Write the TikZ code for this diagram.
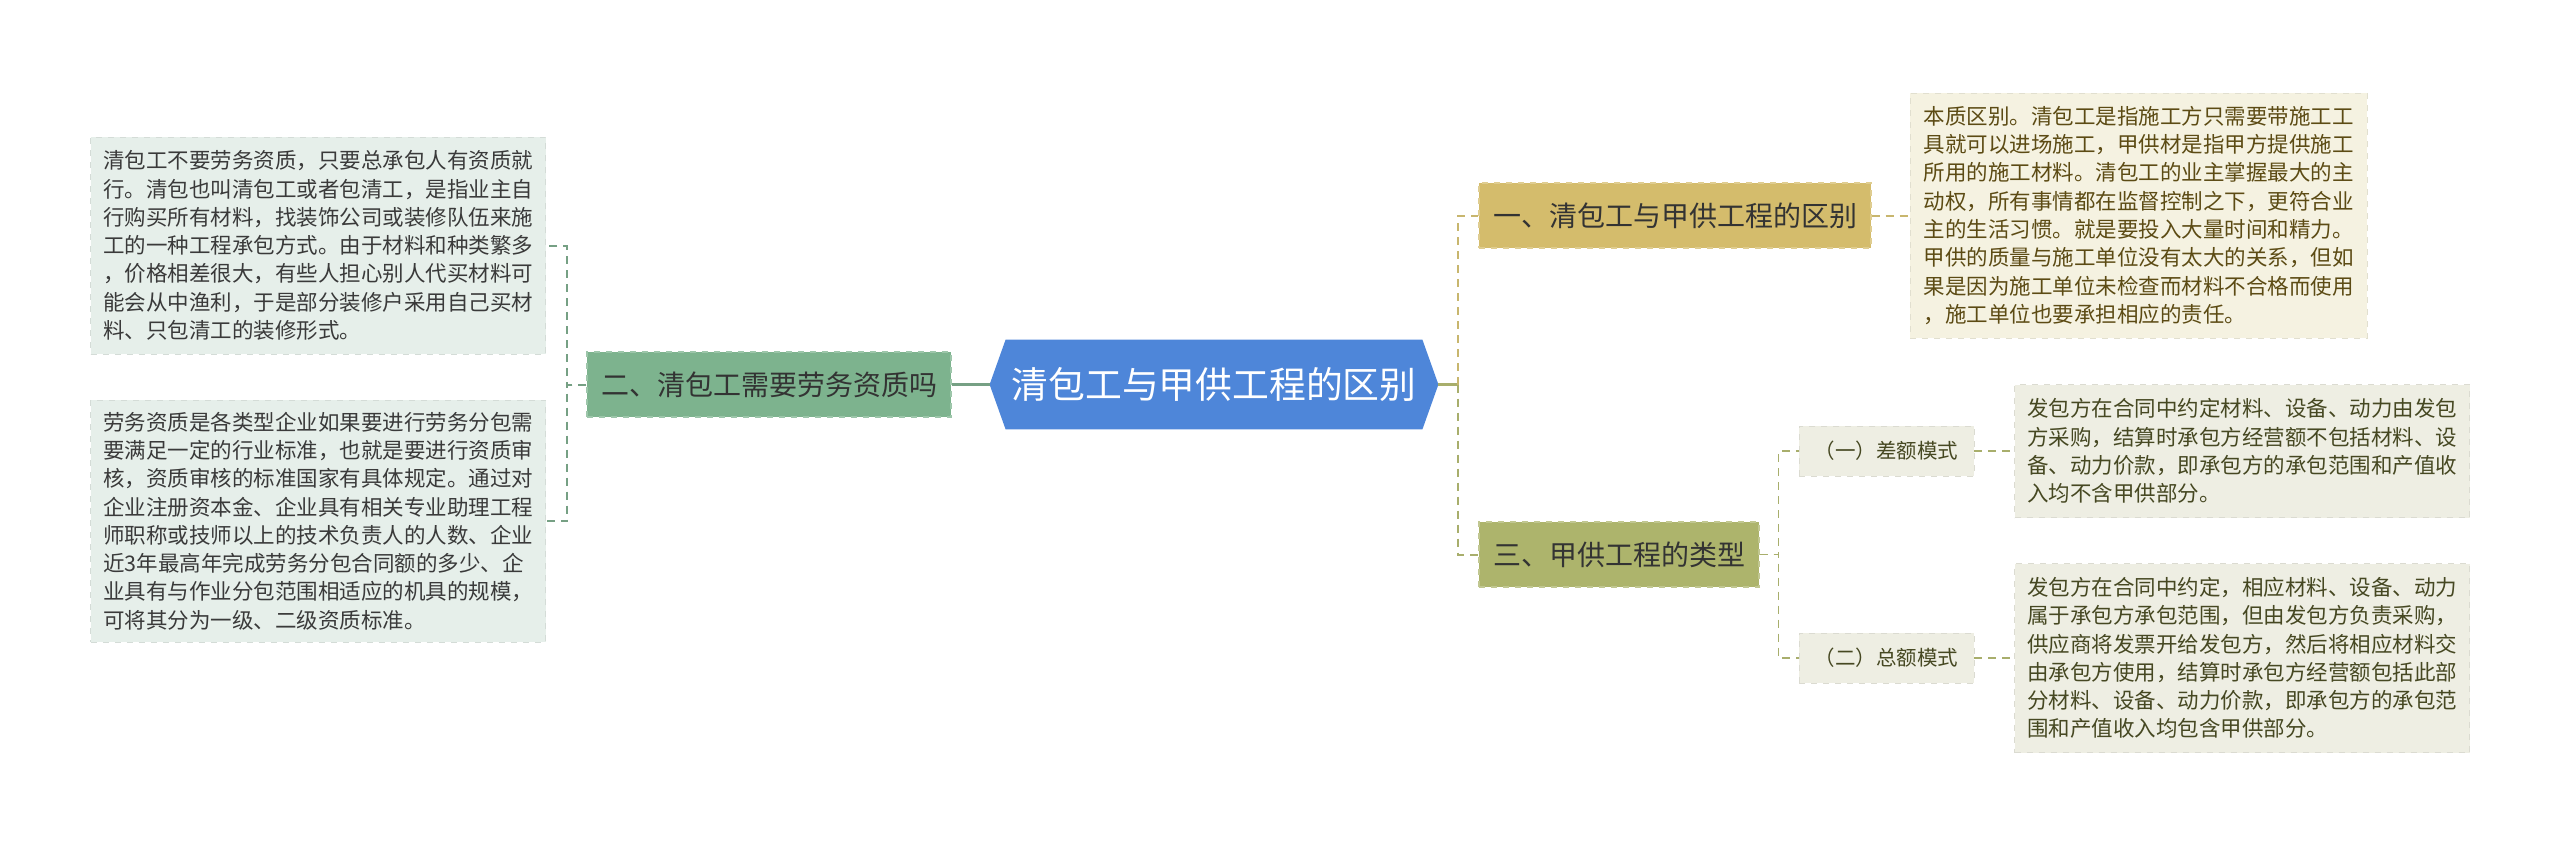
\documentclass[tikz,border=0pt]{standalone}
\usepackage{fontspec}
\setmainfont{Noto Sans CJK SC}
\usetikzlibrary{positioning,backgrounds}
\definecolor{lanZhongxin}{RGB}{78,134,217}
\definecolor{huangZhu}{RGB}{212,188,108}
\definecolor{lvZhu}{RGB}{125,179,142}
\definecolor{ganZhu}{RGB}{173,180,108}
\definecolor{lvKuang}{RGB}{230,239,234}
\definecolor{huangKuang}{RGB}{245,242,225}
\definecolor{huiKuang}{RGB}{238,238,227}
\definecolor{lvXian}{RGB}{118,160,132}
\definecolor{huangXian}{RGB}{200,182,110}
\definecolor{ganXian}{RGB}{168,174,108}
\definecolor{wenHei}{RGB}{58,58,58}
\definecolor{wenHe}{RGB}{92,75,20}
\definecolor{wenGan}{RGB}{70,72,34}
\tikzset{
  zhongxin/.style={rectangle, text=white, minimum width=208pt,
                   minimum height=44.5pt, inner sep=0pt,
                   font=\fontsize{18.4}{22}\selectfont},
  fenzhi/.style={rectangle, dashed, line width=0.6pt, minimum height=32.5pt,
                 inner xsep=7pt, inner ysep=0pt, text=black!80,
                 font=\fontsize{14}{17}\selectfont},
  zijie/.style={rectangle, fill=huiKuang, draw=huiKuang!92!black, dashed,
                minimum width=87.5pt, minimum height=25pt, inner sep=0pt,
                text=wenGan, font=\fontsize{10.25}{12}\selectfont},
  wenkuang/.style={rectangle, dashed, line width=0.5pt, minimum width=227.5pt,
                   inner sep=0pt, align=left,
                   font=\fontsize{10.75}{14.15}\selectfont},
  shixian/.style={line width=1.2pt},
  xuxian/.style={dash pattern=on 4pt off 3pt, line width=1pt},
}
\begin{document}
\begin{tikzpicture}[node distance=20pt]
  \useasboundingbox (0,0) rectangle (1280pt,-423pt);
  \node[zhongxin] (zx) at (607pt,-192.25pt) {清包工与甲供工程的区别};
  \begin{scope}[on background layer]
    \fill[lanZhongxin] (zx.north west) -- (zx.north east) -- ([xshift=8pt]zx.east)
      -- (zx.south east) -- (zx.south west) -- ([xshift=-8pt]zx.west) -- cycle;
  \end{scope}
  \node[fenzhi, fill=lvZhu, draw=lvZhu!75!white, left=27pt of zx] (zhu2) {二、清包工需要劳务资质吗};
  \node[fenzhi, fill=huangZhu, draw=huangZhu!75!white, right=28pt of zx, yshift=84.5pt] (zhu1) {一、清包工与甲供工程的区别};
  \node[fenzhi, fill=ganZhu, draw=ganZhu!75!white, right=28pt of zx, yshift=-85pt] (zhu3) {三、甲供工程的类型};
  \node[wenkuang, fill=lvKuang, draw=lvKuang!92!black, text=wenHei, minimum height=108.5pt,
        left=20pt of zhu2, yshift=69.5pt] (kuangA)
    {清包工不要劳务资质，只要总承包人有资质就\\
     行。清包也叫清包工或者包清工，是指业主自\\
     行购买所有材料，找装饰公司或装修队伍来施\\
     工的一种工程承包方式。由于材料和种类繁多\\
     ，价格相差很大，有些人担心别人代买材料可\\
     能会从中渔利，于是部分装修户采用自己买材\\
     料、只包清工的装修形式。};
  \node[wenkuang, fill=lvKuang, draw=lvKuang!92!black, text=wenHei, minimum height=121pt,
        left=20pt of zhu2, yshift=-68.25pt] (kuangB)
    {劳务资质是各类型企业如果要进行劳务分包需\\
     要满足一定的行业标准，也就是要进行资质审\\
     核，资质审核的标准国家有具体规定。通过对\\
     企业注册资本金、企业具有相关专业助理工程\\
     师职称或技师以上的技术负责人的人数、企业\\
     近3年最高年完成劳务分包合同额的多少、企\\
     业具有与作业分包范围相适应的机具的规模，\\
     可将其分为一级、二级资质标准。};
  \node[wenkuang, fill=huangKuang, draw=huangKuang!92!black, text=wenHe, minimum width=228.5pt,
        minimum height=122.5pt, right=19pt of zhu1] (kuangC)
    {本质区别。清包工是指施工方只需要带施工工\\
     具就可以进场施工，甲供材是指甲方提供施工\\
     所用的施工材料。清包工的业主掌握最大的主\\
     动权，所有事情都在监督控制之下，更符合业\\
     主的生活习惯。就是要投入大量时间和精力。\\
     甲供的质量与施工单位没有太大的关系，但如\\
     果是因为施工单位未检查而材料不合格而使用\\
     ，施工单位也要承担相应的责任。};
  \node[zijie, right=19.5pt of zhu3, yshift=51.75pt] (zi1) {（一）差额模式};
  \node[zijie, right=19.5pt of zhu3, yshift=-51.75pt] (zi2) {（二）总额模式};
  \node[wenkuang, fill=huiKuang, draw=huiKuang!92!black, text=wenGan, minimum height=66.5pt,
        right=20pt of zi1] (kuangD)
    {发包方在合同中约定材料、设备、动力由发包\\
     方采购，结算时承包方经营额不包括材料、设\\
     备、动力价款，即承包方的承包范围和产值收\\
     入均不含甲供部分。};
  \node[wenkuang, fill=huiKuang, draw=huiKuang!92!black, text=wenGan, minimum height=94.5pt,
        right=20pt of zi2] (kuangE)
    {发包方在合同中约定，相应材料、设备、动力\\
     属于承包方承包范围，但由发包方负责采购，\\
     供应商将发票开给发包方，然后将相应材料交\\
     由承包方使用，结算时承包方经营额包括此部\\
     分材料、设备、动力价款，即承包方的承包范\\
     围和产值收入均包含甲供部分。};
  \draw[shixian, lvXian] ([xshift=-8pt]zx.west) -- (zhu2.east);
  \draw[xuxian, lvXian] (zhu2.west) -- ++(-9.5pt,0) |- (kuangA.east);
  \draw[xuxian, lvXian] (zhu2.west) -- ++(-9.5pt,0) |- (kuangB.east);
  \draw[shixian, ganXian] ([xshift=8pt]zx.east) -- ++(10pt,0);
  \draw[xuxian, huangXian] ([xshift=8pt]zx.east) ++(10pt,0) |- (zhu1.west);
  \draw[xuxian, ganXian] ([xshift=8pt]zx.east) ++(10pt,0) |- (zhu3.west);
  \draw[xuxian, huangXian] (zhu1.east) -- (kuangC.west);
  \draw[xuxian, ganXian, line width=0.8pt] (zhu3.east) -- ++(9.5pt,0) |- (zi1.west);
  \draw[xuxian, ganXian, line width=0.8pt] (zhu3.east) -- ++(9.5pt,0) |- (zi2.west);
  \draw[xuxian, ganXian, line width=0.8pt] (zi1.east) -- (kuangD.west);
  \draw[xuxian, ganXian, line width=0.8pt] (zi2.east) -- (kuangE.west);
\end{tikzpicture}
\end{document}
